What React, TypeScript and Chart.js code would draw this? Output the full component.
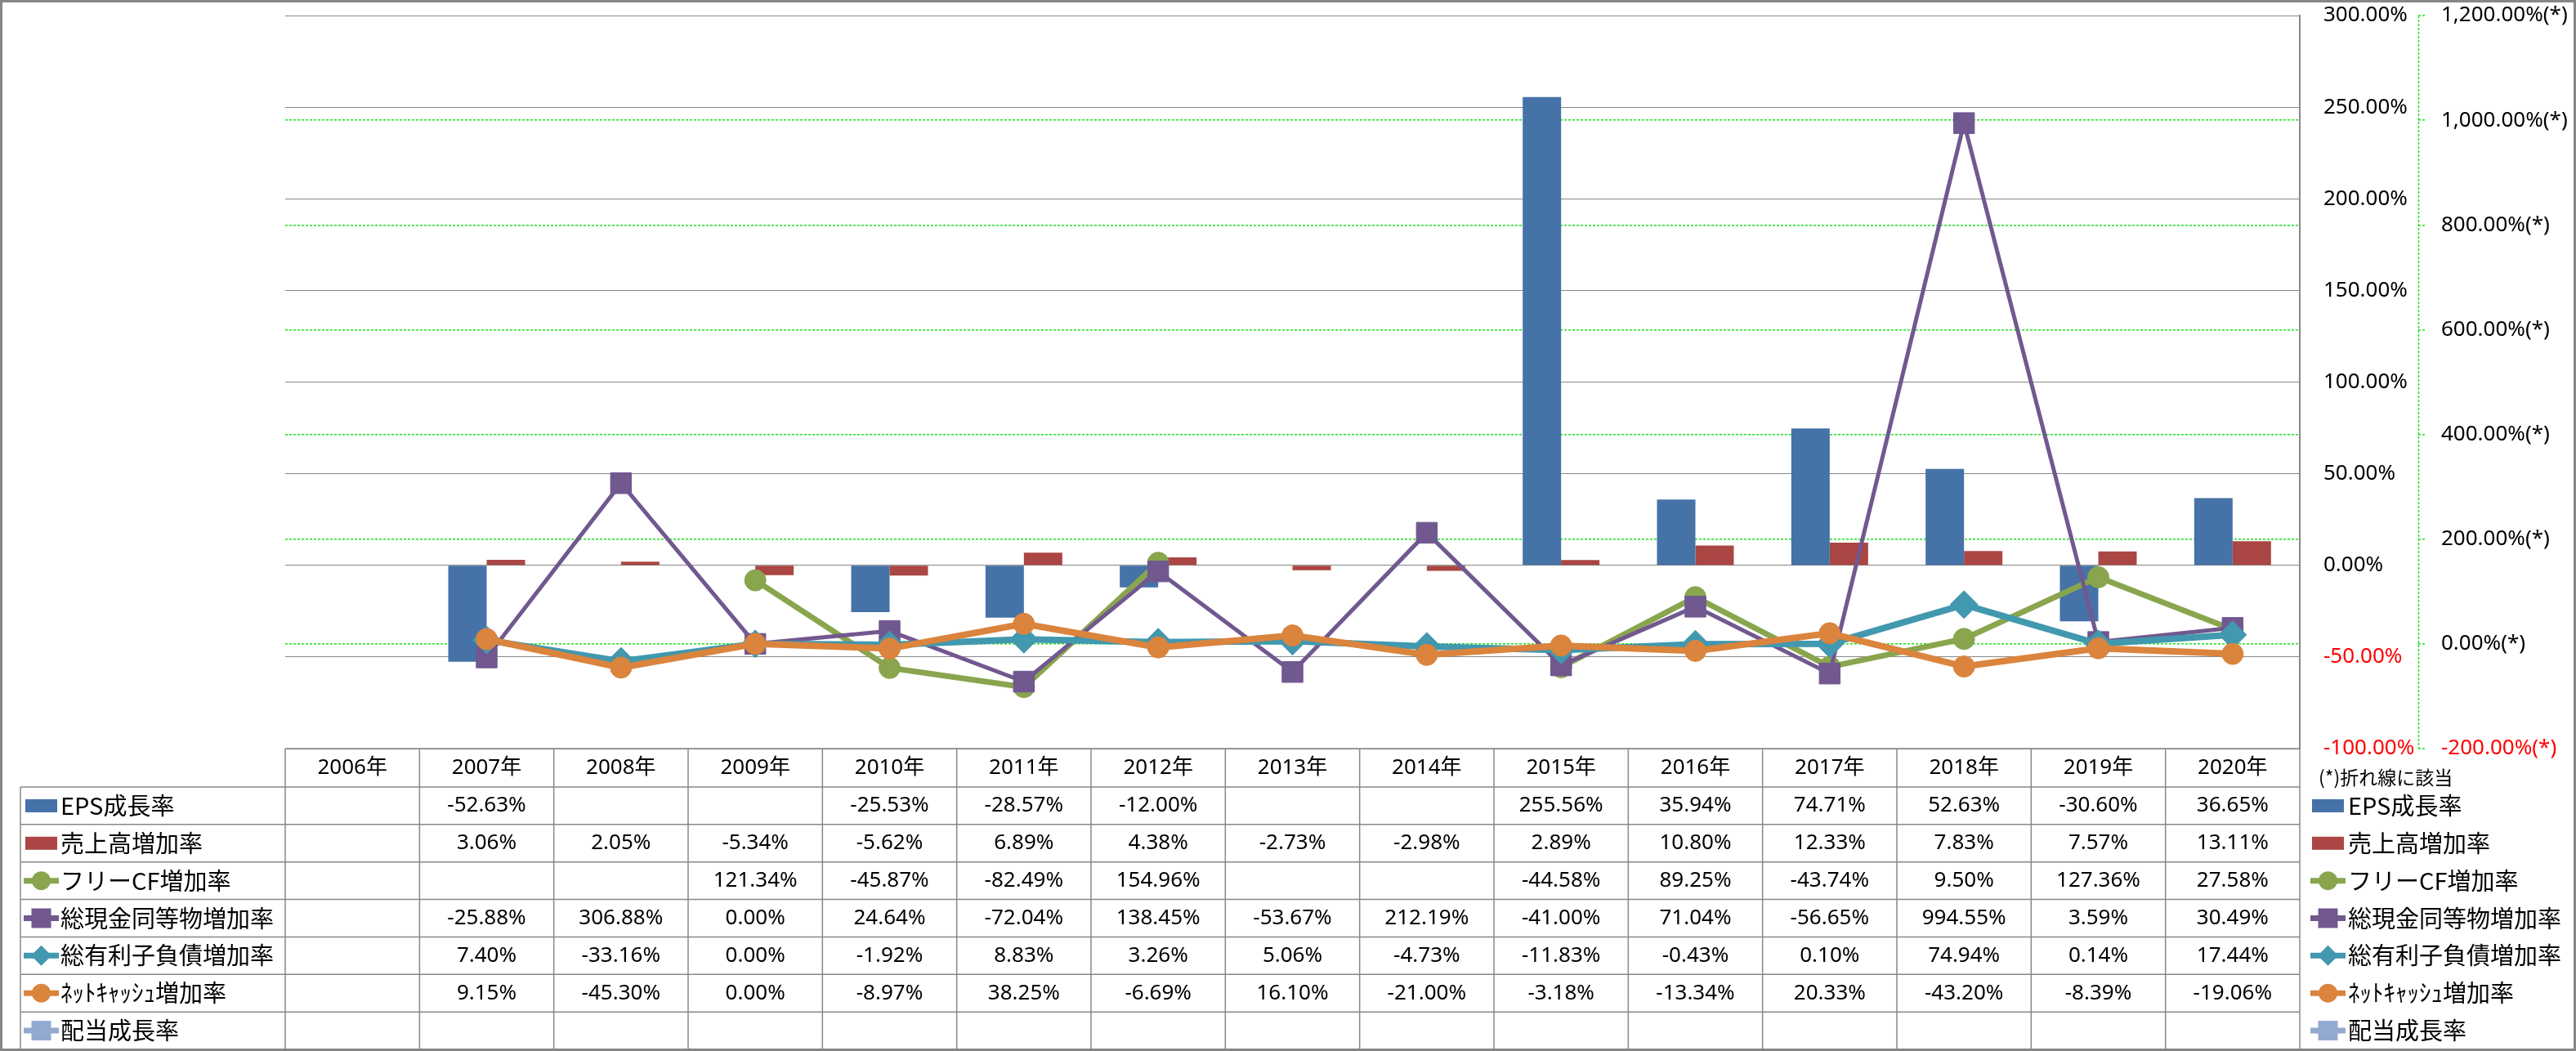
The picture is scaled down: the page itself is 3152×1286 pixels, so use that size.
import React, { useEffect, useRef } from 'react';
import { Chart, registerables } from 'chart.js';

Chart.register(...registerables);

const W = 3152;
const H = 1286;

// ---------- data ----------
const years = ['2006年', '2007年', '2008年', '2009年', '2010年', '2011年', '2012年', '2013年', '2014年', '2015年', '2016年', '2017年', '2018年', '2019年', '2020年'];

const epsGrowth = [null, -52.63, null, null, -25.53, -28.57, -12.0, null, null, 255.56, 35.94, 74.71, 52.63, -30.6, 36.65];
const salesGrowth = [null, 3.06, 2.05, -5.34, -5.62, 6.89, 4.38, -2.73, -2.98, 2.89, 10.8, 12.33, 7.83, 7.57, 13.11];
const fcfGrowth = [null, null, null, 121.34, -45.87, -82.49, 154.96, null, null, -44.58, 89.25, -43.74, 9.5, 127.36, 27.58];
const cashGrowth = [null, -25.88, 306.88, 0.0, 24.64, -72.04, 138.45, -53.67, 212.19, -41.0, 71.04, -56.65, 994.55, 3.59, 30.49];
const debtGrowth = [null, 7.4, -33.16, 0.0, -1.92, 8.83, 3.26, 5.06, -4.73, -11.83, -0.43, 0.1, 74.94, 0.14, 17.44];
const netCashGrowth = [null, 9.15, -45.3, 0.0, -8.97, 38.25, -6.69, 16.1, -21.0, -3.18, -13.34, 20.33, -43.2, -8.39, -19.06];
const dividendGrowth = [null, null, null, null, null, null, null, null, null, null, null, null, null, null, null];

const seriesNames = ['EPS成長率', '売上高増加率', 'フリーCF増加率', '総現金同等物増加率', '総有利子負債増加率', 'ﾈｯﾄｷｬｯｼｭ増加率', '配当成長率'];

const primaryMin = -100;
const primaryMax = 300;
const primaryStep = 50;
const secondaryMin = -200;
const secondaryMax = 1200;
const secondaryStep = 200;

const noteText = '(*)折れ線に該当';

// ---------- styles ----------
const FONT_NUM = "'Noto Sans', 'Noto Sans CJK JP', sans-serif";
const FONT_JP = "'Noto Sans CJK JP', 'Noto Sans', sans-serif";
const GREY = '#888888';
const LIME = '#1EE01E';

type Series = {
  name: string;
  values: (number | null)[];
  kind: 'bar' | 'line';
  color: string;
  marker?: 'circle' | 'rect' | 'rectRot';
};

const series: Series[] = [
  { name: seriesNames[0], values: epsGrowth, kind: 'bar', color: '#4572A7' },
  { name: seriesNames[1], values: salesGrowth, kind: 'bar', color: '#AA4643' },
  { name: seriesNames[2], values: fcfGrowth, kind: 'line', color: '#89A54E', marker: 'circle' },
  { name: seriesNames[3], values: cashGrowth, kind: 'line', color: '#71588F', marker: 'rect' },
  { name: seriesNames[4], values: debtGrowth, kind: 'line', color: '#4198AF', marker: 'rectRot' },
  { name: seriesNames[5], values: netCashGrowth, kind: 'line', color: '#DB843D', marker: 'circle' },
  { name: seriesNames[6], values: dividendGrowth, kind: 'line', color: '#93A9D1', marker: 'rect' },
];

const lineWidths = [0, 0, 7, 5, 8, 8, 7];
const pointRadii = [0, 0, 13, 18, 17, 13, 18];
const orders = [10, 11, 5, 4, 3, 2, 1];

function fmtPct(v: number) {
  return v.toFixed(2) + '%';
}

function drawKey(ctx: CanvasRenderingContext2D, s: Series, x0: number, cy: number) {
  ctx.save();
  ctx.fillStyle = s.color;
  ctx.strokeStyle = s.color;
  if (s.kind === 'bar') {
    ctx.fillRect(x0 + 2, cy - 8, 39, 16);
  } else {
    ctx.lineWidth = 7;
    ctx.beginPath();
    ctx.moveTo(x0, cy);
    ctx.lineTo(x0 + 43, cy);
    ctx.stroke();
    const mx = x0 + 21.5;
    ctx.beginPath();
    if (s.marker === 'circle') {
      ctx.arc(mx, cy, 11.5, 0, Math.PI * 2);
    } else if (s.marker === 'rect') {
      ctx.rect(mx - 12, cy - 12, 24, 24);
    } else {
      ctx.moveTo(mx, cy - 12.5);
      ctx.lineTo(mx + 12.5, cy);
      ctx.lineTo(mx, cy + 12.5);
      ctx.lineTo(mx - 12.5, cy);
      ctx.closePath();
    }
    ctx.fill();
  }
  ctx.restore();
}

const excelPlugin = {
  id: 'excelTable',
  beforeDraw(chart: any) {
    const ctx = chart.ctx as CanvasRenderingContext2D;
    ctx.save();
    ctx.fillStyle = '#ffffff';
    ctx.fillRect(0, 0, chart.width, chart.height);
    ctx.restore();
  },
  beforeDatasetsDraw(chart: any) {
    const ctx = chart.ctx as CanvasRenderingContext2D;
    const y1 = chart.scales.y1;
    ctx.save();
    ctx.strokeStyle = LIME;
    ctx.lineWidth = 1.5;
    ctx.setLineDash([3, 2]);
    ctx.beginPath();
    ctx.moveTo(Math.round(y1.left) + 0.5, y1.top);
    ctx.lineTo(Math.round(y1.left) + 0.5, y1.bottom);
    ctx.stroke();
    ctx.restore();
  },
  afterDraw(chart: any) {
    const ctx = chart.ctx as CanvasRenderingContext2D;
    const ca = chart.chartArea;
    const xs = chart.scales.x;
    const labels = chart.data.labels as string[];
    const n = labels.length;
    const colW = (ca.right - ca.left) / n;
    const tableTop = ca.bottom;
    const headerBottom = tableTop + 47;
    const tableBottom = 1284;
    const rowH = (tableBottom - headerBottom) / series.length;
    const labelLeft = 25;

    ctx.save();
    ctx.strokeStyle = GREY;
    ctx.lineWidth = 1.5;
    const line = (x1: number, y1: number, x2: number, y2: number) => {
      ctx.beginPath();
      ctx.moveTo(x1, y1);
      ctx.lineTo(x2, y2);
      ctx.stroke();
    };
    line(ca.left, tableTop, ca.right, tableTop);
    for (let r = 0; r <= series.length; r++) {
      const y = headerBottom + r * rowH;
      line(labelLeft, y, ca.right, y);
    }
    for (let c = 0; c <= n; c++) {
      const x = ca.left + c * colW;
      line(x, tableTop, x, tableBottom);
    }
    line(labelLeft, headerBottom, labelLeft, tableBottom);

    ctx.fillStyle = '#000000';
    ctx.textBaseline = 'middle';
    ctx.textAlign = 'center';
    ctx.font = `26px ${FONT_NUM}`;
    for (let i = 0; i < n; i++) {
      ctx.fillText(labels[i], xs.getPixelForValue(i), (tableTop + headerBottom) / 2);
    }

    series.forEach((s, r) => {
      const cy = headerBottom + rowH * (r + 0.5);
      drawKey(ctx, s, 29, cy);
      drawKey(ctx, s, 2827, cy);
      ctx.fillStyle = '#000000';
      ctx.textAlign = 'left';
      ctx.font = `29px ${FONT_JP}`;
      ctx.fillText(s.name, 74, cy);
      ctx.fillText(s.name, 2873, cy);
      ctx.textAlign = 'center';
      ctx.font = `26px ${FONT_NUM}`;
      s.values.forEach((v, i) => {
        if (v !== null && v !== undefined) ctx.fillText(fmtPct(v), xs.getPixelForValue(i), cy);
      });
    });

    ctx.textAlign = 'left';
    ctx.font = `23px ${FONT_JP}`;
    ctx.fillText(noteText, 2837, 951);

    ctx.strokeStyle = '#868686';
    ctx.lineWidth = 3;
    ctx.strokeRect(1.5, 1.5, W - 3, H - 3);
    ctx.restore();
  },
};

export default function App() {
  const ref = useRef<HTMLCanvasElement>(null);

  useEffect(() => {
    document.body.style.margin = '0';
    const canvas = ref.current;
    if (!canvas) return;

    const datasets: any[] = series.map((s, i) => {
      if (s.kind === 'bar') {
        return {
          type: 'bar',
          label: s.name,
          data: s.values,
          backgroundColor: s.color,
          borderWidth: 0,
          yAxisID: 'y',
          categoryPercentage: 0.572,
          barPercentage: 1,
          order: orders[i],
        };
      }
      return {
        type: 'line',
        label: s.name,
        data: s.values,
        borderColor: s.color,
        backgroundColor: s.color,
        borderWidth: lineWidths[i],
        pointStyle: s.marker,
        pointRadius: pointRadii[i],
        pointBorderWidth: 1,
        pointBorderColor: s.color,
        pointBackgroundColor: s.color,
        spanGaps: false,
        tension: 0,
        yAxisID: 'y1',
        order: orders[i],
      };
    });

    const fixPad = (s: any, w: number) => {
      s.width = w;
      s.paddingTop = 0;
      s.paddingBottom = 0;
      s.paddingLeft = 0;
      s.paddingRight = 0;
    };

    const chart = new Chart(canvas, {
      type: 'bar',
      data: { labels: years, datasets },
      options: {
        responsive: false,
        animation: false,
        devicePixelRatio: 1,
        layout: { autoPadding: false, padding: { left: 349, top: 19, right: 0, bottom: 370 } },
        plugins: { legend: { display: false }, tooltip: { enabled: false }, title: { display: false } },
        scales: {
          x: {
            type: 'category',
            display: false,
            offset: true,
            grid: { display: false },
          },
          y: {
            position: 'right',
            weight: 1,
            z: 0,
            min: primaryMin,
            max: primaryMax,
            ticks: {
              stepSize: primaryStep,
              padding: 29,
              font: { family: FONT_NUM, size: 26 },
              color: (c: any) => (c.tick && c.tick.value < 0 ? '#FF0000' : '#000000'),
              callback: (v: any) => Number(v).toFixed(2) + '%',
            },
            grid: { color: GREY, lineWidth: 1, drawTicks: false },
            border: { display: true, color: GREY, width: 2 },
            afterFit: (s: any) => fixPad(s, 145),
          },
          y1: {
            position: 'right',
            weight: 2,
            z: -1,
            min: secondaryMin,
            max: secondaryMax,
            ticks: {
              stepSize: secondaryStep,
              padding: 19,
              font: { family: FONT_NUM, size: 26 },
              color: (c: any) => (c.tick && c.tick.value < 0 ? '#FF0000' : '#000000'),
              callback: (v: any) =>
                Number(v).toLocaleString('en-US', { minimumFractionDigits: 2, maximumFractionDigits: 2 }) + '%(*)',
            },
            grid: {
              color: LIME,
              lineWidth: (c: any) =>
                c.tick && (c.tick.value === secondaryMax || c.tick.value === secondaryMin) ? 0 : 1.5,
              drawOnChartArea: true,
              drawTicks: true,
              tickLength: 9,
              tickColor: LIME,
              tickWidth: 1.5,
              tickBorderDash: [3, 2],
            },
            border: { display: false, dash: [3, 2] },
            afterFit: (s: any) => fixPad(s, 193),
          },
        },
      } as any,
      plugins: [excelPlugin],
    });

    return () => chart.destroy();
  }, []);

  return (
    <div style={{ width: W, height: H }}>
      <canvas ref={ref} width={W} height={H} style={{ display: 'block', width: W, height: H }} />
    </div>
  );
}
